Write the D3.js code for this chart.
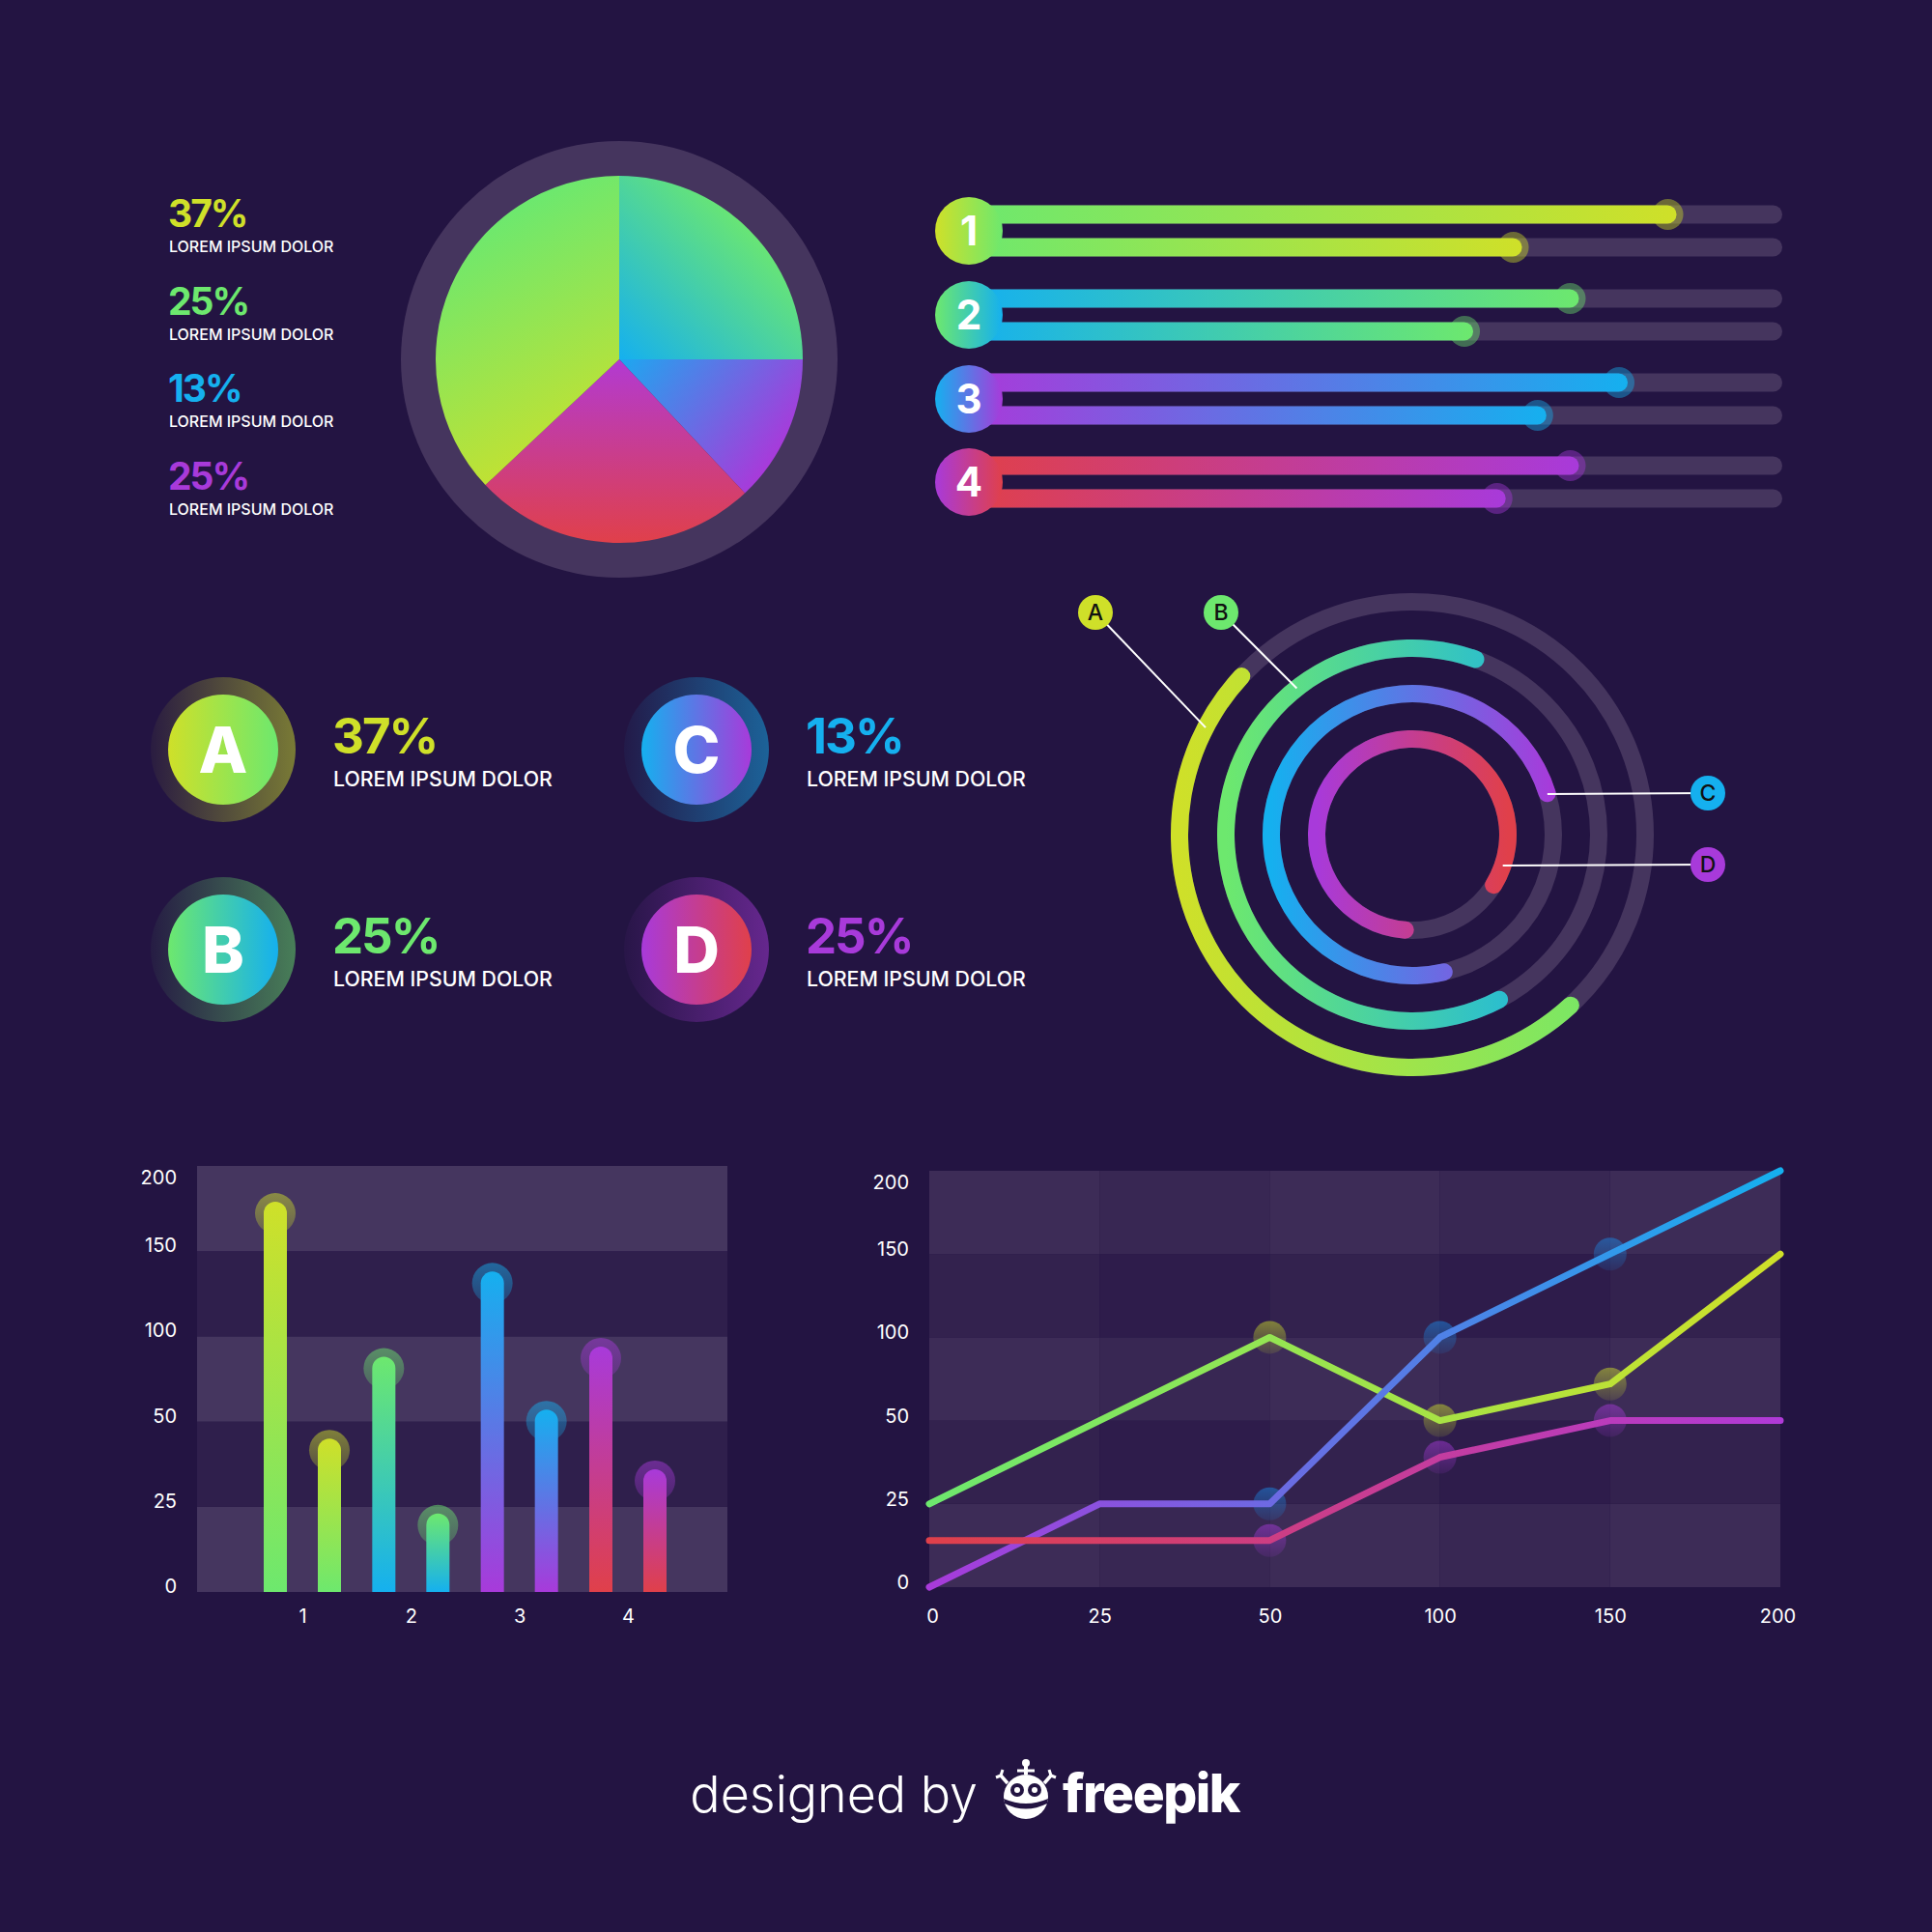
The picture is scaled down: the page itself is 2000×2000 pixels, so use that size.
<!DOCTYPE html>
<html><head><meta charset="utf-8">
<script src="https://cdn.jsdelivr.net/npm/d3@7"></script>
<style>body{margin:0;background:#231442}svg{display:block}</style>
</head><body><svg id="c" width="2000" height="2000"></svg>
<script>
// ---------------- DATA ----------------
const pieLegendValues = [37, 25, 13, 25];
const pieLegendLabels = ["LOREM IPSUM DOLOR", "LOREM IPSUM DOLOR", "LOREM IPSUM DOLOR", "LOREM IPSUM DOLOR"];
const pieSlices = [25, 13, 25, 37];            // clockwise from 12 o'clock
const progressNumbers = ["1", "2", "3", "4"];
const progressTop = [87, 75, 81, 75];
const progressBottom = [68, 62, 71, 66];
const cardLetters = ["A", "B", "C", "D"];
const cardValues = [37, 25, 13, 25];
const cardLabels = ["LOREM IPSUM DOLOR", "LOREM IPSUM DOLOR", "LOREM IPSUM DOLOR", "LOREM IPSUM DOLOR"];
const ringLabels = ["A", "B", "C", "D"];
const ringStartDeg = [135, 149.5, 163.5, 179];
const ringSweepDeg = [180, 233, 273, 308];
const barGroups = ["1", "2", "3", "4"];
const barValues = [179, 45, 88, 23, 138, 57, 94, 36];
const axisTicks = [0, 25, 50, 100, 150, 200];
const lineX = [0, 25, 50, 100, 150, 200];
const lineGreen = [25, 50, 100, 50, 72, 150];
const lineBlue = [0, 25, 25, 100, 150, 200];
const lineRed = [14, 14, 14, 39, 50, 50];
const footerText = "designed by";
const brandText = "freepik";

// ---------------- STYLE ----------------
const BG = "#231442", TRACK = "#45355e";
const Y = "#cfe029", G = "#6de86e", B = "#15b0ef", P = "#a83ada", R = "#e0404a";
const pairs = [[Y, G], [G, B], [B, P], [P, R]];
const textCol = [Y, G, B, P];
const FONT = "Inter, 'Open Sans', sans-serif";

const svg = d3.select("#c");
svg.append("rect").attr("width", 2000).attr("height", 2000).attr("fill", BG);
const defs = svg.append("defs");
function lg(id, c1, c2, x1, y1, x2, y2, user) {
  const g = defs.append("linearGradient").attr("id", id)
    .attr("x1", x1).attr("y1", y1).attr("x2", x2).attr("y2", y2);
  if (user) g.attr("gradientUnits", "userSpaceOnUse");
  g.append("stop").attr("offset", 0).attr("stop-color", c1);
  g.append("stop").attr("offset", 1).attr("stop-color", c2);
  return "url(#" + id + ")";
}
function fadeV(id, c, o1, o2) {
  const g = defs.append("linearGradient").attr("id", id).attr("x1", 0).attr("y1", 0).attr("x2", 0).attr("y2", 1);
  g.append("stop").attr("offset", 0).attr("stop-color", c).attr("stop-opacity", o1);
  g.append("stop").attr("offset", 1).attr("stop-color", c).attr("stop-opacity", o2);
  return "url(#" + id + ")";
}
function fadeH(id, c, o1, o2) {
  const g = defs.append("linearGradient").attr("id", id).attr("x1", 0).attr("y1", 0).attr("x2", 1).attr("y2", 0);
  g.append("stop").attr("offset", 0).attr("stop-color", c).attr("stop-opacity", o1);
  g.append("stop").attr("offset", 1).attr("stop-color", c).attr("stop-opacity", o2);
  return "url(#" + id + ")";
}

// ---------------- PIE ----------------
{
  const cx = 641, cy = 372, r = 190;
  const g = svg.append("g").attr("transform", `translate(${cx},${cy})`);
  g.append("circle").attr("r", 226).attr("fill", TRACK);
  const grads = [
    lg("ps0", B, G, 0, 0, 0.75 * r, -0.75 * r, true),
    lg("ps1", "#1ca8f0", P, 0, 0, 0.8 * r, 0.6 * r, true),
    lg("ps2", "#b23ad2", R, 0, 0, 0, r, true),
    lg("ps3", G, Y, -0.6 * r, -0.8 * r, 0.1 * r, 0.5 * r, true)
  ];
  const arcs = d3.pie().sort(null).value(d => d)(pieSlices);
  g.selectAll("path.sl").data(arcs).join("path").attr("class", "sl")
    .attr("d", d3.arc().innerRadius(0).outerRadius(r))
    .attr("fill", (d, i) => grads[i]);
  const lgd = svg.append("g");
  pieLegendValues.forEach((v, i) => {
    const y0 = 235 + i * 90.7;
    lgd.append("text").attr("x", 174).attr("y", y0).text(v + "%")
      .attr("fill", textCol[i]).attr("font-family", FONT).attr("font-weight", 700).attr("font-size", 39)
      .attr("letter-spacing", -2);
    lgd.append("text").attr("x", 175).attr("y", y0 + 26).text(pieLegendLabels[i])
      .attr("fill", "#fff").attr("font-family", FONT).attr("font-weight", 500).attr("font-size", 16);
  });
}

// ---------------- PROGRESS BARS ----------------
{
  const x = d3.scaleLinear().domain([0, 100]).range([1003, 1845]);
  const cyList = [239, 326, 413, 499];
  const h = 19;
  progressNumbers.forEach((n, i) => {
    const cy = cyList[i];
    const g = svg.append("g");
    const barFill = lg("pb" + i, pairs[i][1], pairs[i][0], 0, 0, 1, 0);
    [[progressTop[i], cy - 17], [progressBottom[i], cy + 17]].forEach(([v, y]) => {
      g.append("rect").attr("x", x(0)).attr("y", y - h / 2).attr("width", x(100) - x(0)).attr("height", h)
        .attr("rx", h / 2).attr("fill", TRACK);
      g.append("circle").attr("cx", x(v) - 9).attr("cy", y).attr("r", 16)
        .attr("fill", pairs[i][0]).attr("opacity", 0.42);
      g.append("rect").attr("x", x(0)).attr("y", y - h / 2).attr("width", x(v) - x(0)).attr("height", h)
        .attr("rx", h / 2).attr("fill", barFill);
    });
    g.append("circle").attr("cx", x(0)).attr("cy", cy).attr("r", 35)
      .attr("fill", lg("pc" + i, pairs[i][0], pairs[i][1], 0, 0, 1, 0));
    g.append("text").attr("x", x(0)).attr("y", cy + 15).attr("text-anchor", "middle").text(n)
      .attr("fill", "#fff").attr("font-family", FONT).attr("font-weight", 700).attr("font-size", 42);
  });
}

// ---------------- CARDS ----------------
{
  const pos = [[231, 776], [231, 983], [721, 776], [721, 983]];
  cardLetters.forEach((L, i) => {
    const [cx, cy] = pos[i];
    const g = svg.append("g");
    g.append("circle").attr("cx", cx).attr("cy", cy).attr("r", 75).attr("fill", fadeH("ch" + i, pairs[i][0], 0.04, 0.5));
    g.append("circle").attr("cx", cx).attr("cy", cy).attr("r", 57).attr("fill", lg("cc" + i, pairs[i][0], pairs[i][1], 0, 0, 1, 0));
    g.append("text").attr("x", cx).attr("y", cy + 24).attr("text-anchor", "middle").text(L)
      .attr("fill", "#fff").attr("font-family", FONT).attr("font-weight", 800).attr("font-size", 66);
    g.append("text").attr("x", cx + 113).attr("y", cy + 4).text(cardValues[i] + "%")
      .attr("fill", textCol[i]).attr("font-family", FONT).attr("font-weight", 700).attr("font-size", 51)
      .attr("letter-spacing", -2);
    g.append("text").attr("x", cx + 114).attr("y", cy + 38).text(cardLabels[i])
      .attr("fill", "#fff").attr("font-family", FONT).attr("font-weight", 500).attr("font-size", 21.3);
  });
}

// ---------------- RINGS ----------------
{
  const cx = 1462, cy = 864, th = 18;
  const radii = [241, 193, 146, 99];
  const g = svg.append("g").attr("transform", `translate(${cx},${cy})`);
  const deg = Math.PI / 180;
  radii.forEach((r, i) => {
    g.append("circle").attr("r", r).attr("fill", "none").attr("stroke", TRACK).attr("stroke-width", th);
    const a = d3.arc().innerRadius(r - th / 2).outerRadius(r + th / 2).cornerRadius(th / 2)
      .startAngle(ringStartDeg[i] * deg).endAngle((ringStartDeg[i] + ringSweepDeg[i]) * deg);
    g.append("path").attr("d", a()).attr("fill", lg("rg" + i, pairs[i][0], pairs[i][1], -r, 0, r, 0, true));
  });
  // leader lines + bubbles
  const bub = [[1134, 634], [1264, 634], [1768, 821], [1768, 895]];
  const leadDeg = [297.4, 321.7, 73.3, 108.9];
  ringLabels.forEach((L, i) => {
    const a = leadDeg[i] * deg, r = radii[i];
    const px = cx + r * Math.sin(a), py = cy - r * Math.cos(a);
    svg.append("line").attr("x1", px).attr("y1", py).attr("x2", bub[i][0]).attr("y2", bub[i][1])
      .attr("stroke", "#fff").attr("stroke-width", 2);
    svg.append("circle").attr("cx", bub[i][0]).attr("cy", bub[i][1]).attr("r", 18).attr("fill", textCol[i]);
    svg.append("text").attr("x", bub[i][0]).attr("y", bub[i][1] + 8).attr("text-anchor", "middle").text(L)
      .attr("fill", "#111").attr("font-family", FONT).attr("font-weight", 500).attr("font-size", 23);
  });
}

// ---------------- BAR CHART ----------------
{
  const x0 = 204, x1 = 753, yTop = 1207, yBot = 1648;
  const y = d3.scaleLinear().domain(axisTicks).range(axisTicks.map((d, i) => yBot - i * (yBot - yTop) / (axisTicks.length - 1)));
  const xg = d3.scalePoint().domain(barGroups).range([313, 650]);
  const g = svg.append("g");
  d3.pairs(axisTicks).forEach(([a, b], i) => {
    g.append("rect").attr("x", x0).attr("width", x1 - x0).attr("y", y(b)).attr("height", y(a) - y(b))
      .attr("fill", i % 2 === 0 ? "#45365f" : "#2f1f4c");
  });
  const w = 24, rr = 12;
  barValues.forEach((v, k) => {
    const gi = Math.floor(k / 2), side = k % 2 === 0 ? -1 : 1;
    const cx = xg(barGroups[gi]) + side * 28;
    const top = y(v);
    g.append("circle").attr("cx", cx).attr("cy", top + 12).attr("r", 21)
      .attr("fill", fadeV("bh" + k, pairs[gi][0], 0.5, 0.25));
    const fill = lg("bb" + k, pairs[gi][1], pairs[gi][0], 0, 1, 0, 0);
    g.append("path").attr("d", `M${cx - w / 2},${y(0)}V${top + rr}A${rr},${rr} 0 0 1 ${cx + w / 2},${top + rr}V${y(0)}Z`)
      .attr("fill", fill);
  });
  const ax = g.append("g").attr("transform", `translate(${x0 - 21},0)`)
    .call(d3.axisLeft(y).tickValues(axisTicks).tickSize(0).tickPadding(0));
  ax.select(".domain").remove();
  ax.selectAll("text").attr("font-family", FONT).attr("font-size", 20).attr("fill", "#fff")
    .attr("y", d => Math.max(y(d) - 6, yTop + 12) - y(d));
  const bx = g.append("g").attr("transform", `translate(0,${yBot})`)
    .call(d3.axisBottom(xg).tickSize(0).tickPadding(18));
  bx.select(".domain").remove();
  bx.selectAll("text").attr("font-family", FONT).attr("font-size", 20).attr("fill", "#fff");
}

// ---------------- LINE CHART ----------------
{
  const x0 = 962, x1 = 1843, yTop = 1212, yBot = 1643;
  const n = axisTicks.length - 1;
  const x = d3.scaleLinear().domain(axisTicks).range(axisTicks.map((d, i) => x0 + i * (x1 - x0) / n));
  const y = d3.scaleLinear().domain(axisTicks).range(axisTicks.map((d, i) => yBot - i * (yBot - yTop) / n));
  const g = svg.append("g");
  const segs = d3.pairs(axisTicks);
  segs.forEach(([ya, yb], j) => segs.forEach(([xa, xb], i) => {
    const light = j % 2 === 0;
    const col = light ? (i % 2 === 0 ? "#3d2c57" : "#382753") : (i % 2 === 0 ? "#33224e" : "#2e1c4b");
    g.append("rect").attr("x", x(xa)).attr("width", x(xb) - x(xa)).attr("y", y(yb)).attr("height", y(ya) - y(yb)).attr("fill", col);
  }));
  const series = [
    { vals: lineGreen, c: [G, Y], halo: Y },
    { vals: lineBlue, c: [P, B], halo: "#1a8ae8" },
    { vals: lineRed, c: [R, "#b03ad8"], halo: P }
  ];
  // halos first
  series.forEach((s, si) => {
    [2, 3, 4].forEach(k => {
      g.append("circle").attr("cx", x(lineX[k])).attr("cy", y(s.vals[k])).attr("r", 17)
        .attr("fill", fadeV("lh" + si + k, s.halo, 0.5, 0.12));
    });
  });
  const line = d3.line().x((d, i) => x(lineX[i])).y(d => y(d));
  series.forEach((s, si) => {
    g.append("path").attr("d", line(s.vals)).attr("fill", "none")
      .attr("stroke", lg("ln" + si, s.c[0], s.c[1], x0, 0, x1, 0, true))
      .attr("stroke-width", 7).attr("stroke-linecap", "round").attr("stroke-linejoin", "round");
  });
  const ay = g.append("g").attr("transform", `translate(${x0 - 21},0)`)
    .call(d3.axisLeft(y).tickValues(axisTicks).tickSize(0).tickPadding(0));
  ay.select(".domain").remove();
  ay.selectAll("text").attr("font-family", FONT).attr("font-size", 20).attr("fill", "#fff")
    .attr("y", d => Math.max(y(d) - 5, yTop + 12) - y(d));
  const axx = g.append("g").attr("transform", `translate(0,${yBot})`)
    .call(d3.axisBottom(x).tickValues(axisTicks).tickSize(0).tickPadding(23));
  axx.select(".domain").remove();
  axx.selectAll("text").attr("font-family", FONT).attr("font-size", 20).attr("fill", "#fff")
    .attr("dx", d => d === 0 ? 3 : d === 200 ? -3 : 0);
}

// ---------------- FOOTER ----------------
{
  svg.append("text").attr("x", 1012).attr("y", 1876).attr("text-anchor", "end").text(footerText)
    .attr("fill", "#fff").attr("font-family", FONT).attr("font-weight", 300).attr("font-size", 52);
  svg.append("text").attr("x", 1100).attr("y", 1876).text(brandText)
    .attr("fill", "#fff").attr("font-family", FONT).attr("font-weight", 800).attr("font-size", 55)
    .attr("letter-spacing", -1.5);
  const lg0 = svg.append("g").attr("transform", "translate(1062,1860)");
  lg0.append("circle").attr("r", 23).attr("fill", "#fff");
  lg0.append("path").attr("d", "M-23,2 Q0,12 23,2 L22,7 Q0,18 -22,7Z").attr("fill", BG);
  [-9, 9].forEach(ex => {
    lg0.append("circle").attr("cx", ex).attr("cy", -7).attr("r", 7).attr("fill", BG);
    lg0.append("circle").attr("cx", ex).attr("cy", -7).attr("r", 3).attr("fill", "#fff");
  });
  lg0.append("line").attr("x1", 0).attr("y1", -23).attr("x2", 0).attr("y2", -33).attr("stroke", "#fff").attr("stroke-width", 4);
  lg0.append("circle").attr("cx", 0).attr("cy", -35).attr("r", 4).attr("fill", "#fff");
  lg0.append("line").attr("x1", -9).attr("y1", -27).attr("x2", 9).attr("y2", -27).attr("stroke", "#fff").attr("stroke-width", 3);
  [-1, 1].forEach(s => {
    lg0.append("line").attr("x1", s * 19).attr("y1", -14).attr("x2", s * 26).attr("y2", -22).attr("stroke", "#fff").attr("stroke-width", 3.5);
    lg0.append("line").attr("x1", s * 26).attr("y1", -22).attr("x2", s * 31).attr("y2", -20).attr("stroke", "#fff").attr("stroke-width", 3);
    lg0.append("line").attr("x1", s * 26).attr("y1", -22).attr("x2", s * 24).attr("y2", -28).attr("stroke", "#fff").attr("stroke-width", 3);
  });
}
</script></body></html>
